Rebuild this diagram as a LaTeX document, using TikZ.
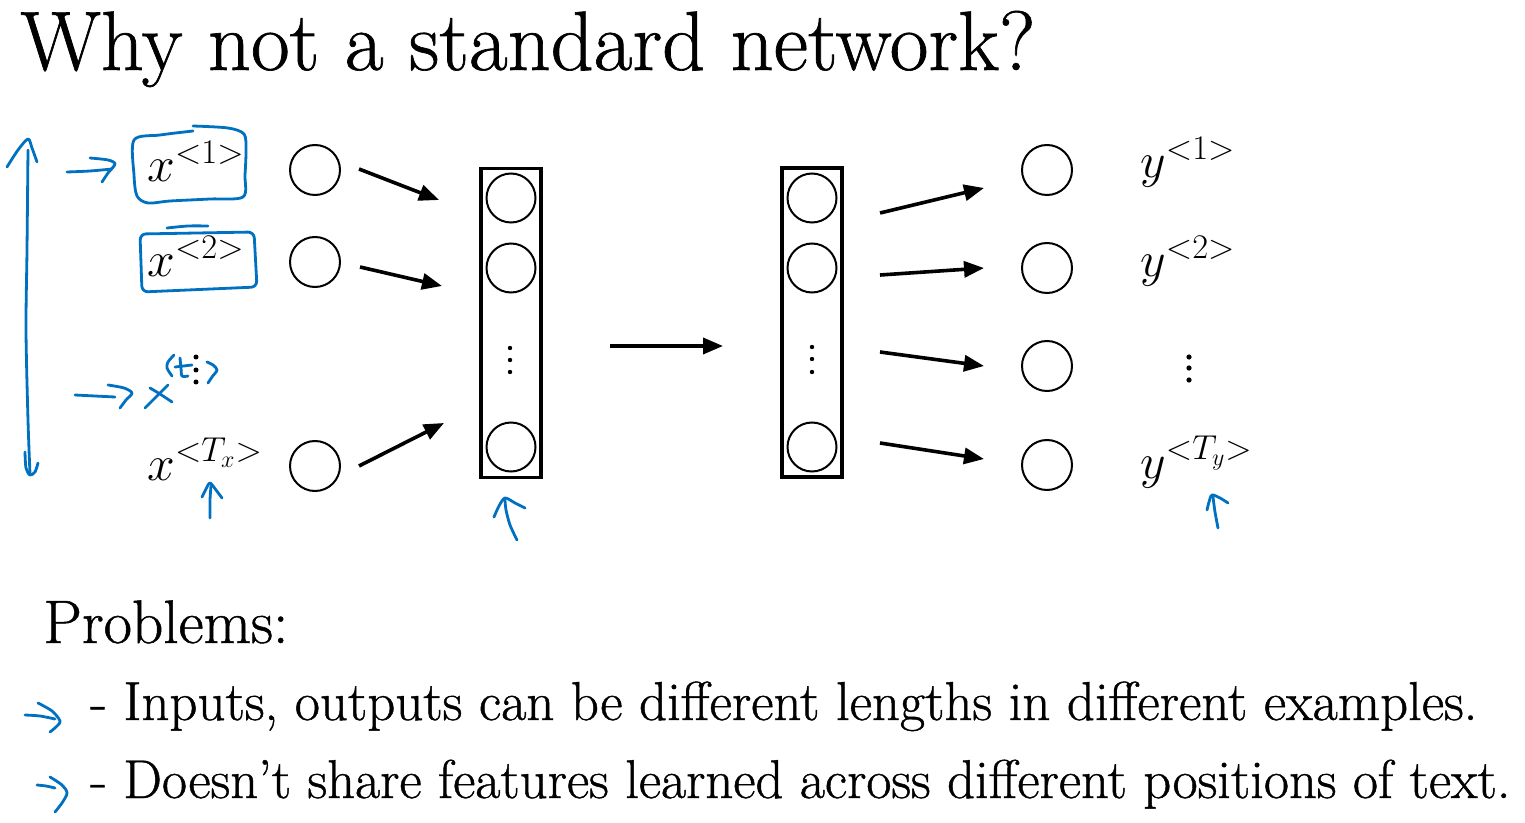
\documentclass[tikz,border=0pt]{standalone}
\usepackage{fontspec}
\newfontfamily\heavy{Latin Modern Roman}[FakeBold=0.8]
\usetikzlibrary{arrows.meta}
\definecolor{pen}{RGB}{0,112,192}
\begin{document}
\begin{tikzpicture}[x=0.5pt,y=-0.5pt,
  neuron/.style={circle, draw, line width=1pt, minimum size=25pt, inner sep=0pt},
  layerbox/.style={draw, line width=1.7pt, minimum width=30pt, minimum height=154.5pt, inner sep=0pt},
  arr/.style={line width=1.8pt, -{Triangle[length=10pt,width=8pt]}},
  ink/.style={pen, line width=1.4pt, line cap=round, line join=round},
  lbl/.style={anchor=base west, inner sep=0pt, font=\fontsize{23}{28}\selectfont},
  txt/.style={anchor=base west, inner sep=0pt},
  dot/.style={circle, fill, inner sep=0pt, minimum size=4pt}]
\useasboundingbox (0,0) rectangle (1525,823);

% texts
\node[txt] (title) at (20,70) {\resizebox{507.5pt}{!}{\heavy\fontsize{40}{48}\selectfont Why not a standard network?}};
\node[txt] (prob) at (43,643) {\resizebox{122.5pt}{!}{\heavy\fontsize{28}{34}\selectfont Problems:}};
\node[txt] (b1) at (90,720) {\resizebox{693.5pt}{!}{\heavy\fontsize{26}{32}\selectfont - Inputs, outputs can be different lengths in different examples.}};
\node[txt] (b2) at (90,798) {\resizebox{710pt}{!}{\heavy\fontsize{26}{32}\selectfont - Doesn’t share features learned across different positions of text.}};

% input labels
\node[lbl] (x1) at (147,182) {$x^{<1>}$};
\node[lbl] (x2) at (147,277) {$x^{<2>}$};
\node[lbl] (xT) at (147,480) {$x^{<T_x>}$};
\node[dot, minimum size=2.5pt] (xd1) at (196,357) {};
\node[dot, minimum size=2.5pt] (xd2) at (196,370) {};
\node[dot, minimum size=2.5pt] (xd3) at (196,382) {};

% output labels
\node[lbl] (y1) at (1140,178) {$y^{<1>}$};
\node[lbl] (y2) at (1140,277) {$y^{<2>}$};
\node[lbl] (yT) at (1140,478) {$y^{<T_y>}$};
\node[dot, minimum size=2.6pt] (yd1) at (1189,357) {};
\node[dot, minimum size=2.6pt] (yd2) at (1189,368) {};
\node[dot, minimum size=2.6pt] (yd3) at (1189,380) {};

% input neurons
\node[neuron] (c1) at (315,170) {};
\node[neuron] (c2) at (315,262) {};
\node[neuron] (c3) at (315,466) {};

% hidden layer 1
\node[layerbox] (L1) at (511,323) {};
\node[neuron, minimum size=24.5pt] (h1) at (511,198) {};
\node[neuron, minimum size=24.5pt] (h2) at (511,268) {};
\node[neuron, minimum size=24.5pt] (h3) at (511,447) {};
\node[dot, minimum size=2.2pt] (hd1) at (510,348) {};
\node[dot, minimum size=2.2pt] (hd2) at (510,360) {};
\node[dot, minimum size=2.2pt] (hd3) at (510,372) {};

% hidden layer 2
\node[layerbox] (L2) at (812,322.5) {};
\node[neuron, minimum size=24.5pt] (g1) at (812,198) {};
\node[neuron, minimum size=24.5pt] (g2) at (812,268) {};
\node[neuron, minimum size=24.5pt] (g3) at (812,447) {};
\node[dot, minimum size=2.2pt] (gd1) at (812,347) {};
\node[dot, minimum size=2.2pt] (gd2) at (812,359) {};
\node[dot, minimum size=2.2pt] (gd3) at (812,372) {};

% output neurons
\node[neuron] (o1) at (1047,170) {};
\node[neuron] (o2) at (1047,268) {};
\node[neuron] (o3) at (1047,366) {};
\node[neuron] (o4) at (1047,465) {};

% arrow end points
\coordinate (a1s) at (359,169); \coordinate (a1e) at (439,200);
\coordinate (a2s) at (360,267); \coordinate (a2e) at (442,286);
\coordinate (a3s) at (359,466); \coordinate (a3e) at (444,423);
\coordinate (ms) at (610,346);  \coordinate (me) at (723,346);
\coordinate (b1s) at (880,213); \coordinate (b1e) at (984,188);
\coordinate (b2s) at (880,275); \coordinate (b2e) at (984,268);
\coordinate (b3s) at (880,352); \coordinate (b3e) at (984,366);
\coordinate (b4s) at (880,443); \coordinate (b4e) at (984,459);

\draw[arr] (a1s) -- (a1e);
\draw[arr] (a2s) -- (a2e);
\draw[arr] (a3s) -- (a3e);
\draw[arr] (ms) -- (me);
\draw[arr] (b1s) -- (b1e);
\draw[arr] (b2s) -- (b2e);
\draw[arr] (b3s) -- (b3e);
\draw[arr] (b4s) -- (b4e);

% ---- hand-drawn blue annotations ----
% long vertical double arrow
\draw[ink] plot[smooth] coordinates {(28,150) (27,250) (26,330) (28,420) (30,474)};
\draw[ink] plot[smooth] coordinates {(7,167) (18,150) (28,139) (32,148) (37,162)};
\draw[ink] plot[smooth] coordinates {(25,452) (26,468) (30,475) (35,472) (38,463)};
% arrow to x<1>
\draw[ink] plot[smooth] coordinates {(67,172) (90,171) (112,169)};
\draw[ink] plot[smooth] coordinates {(90,158) (108,160) (115,164) (108,173) (102,182)};
% box around x<1>
\draw[ink] plot[smooth] coordinates {(193,126) (228,128) (244,134) (246,150) (245,175) (243,197) (210,199) (170,201) (148,203) (137,196) (134,175) (134,140) (160,135) (193,131)};
% box around x<2>
\draw[ink] plot[smooth] coordinates {(167,228) (188,226) (208,226)};
\draw[ink, rounded corners=3pt] (140,234) -- (254,232) -- (257,287) -- (142,292) -- cycle;
% arrow to x<t>
\draw[ink] plot[smooth] coordinates {(75,395) (95,396) (115,397)};
\draw[ink] plot[smooth] coordinates {(108,385) (124,388) (132,393) (126,400) (120,408)};
% hand-written x<t>
\draw[ink] (145,408) -- (168,385);
\draw[ink] plot[smooth] coordinates {(150,388) (160,394) (172,402)};
\draw[ink] plot[smooth] coordinates {(174,355) (168,362) (167,368) (172,376)};
\draw[ink] plot[smooth] coordinates {(180,358) (181,368) (182,376) (188,376)};
\draw[ink] (175,367) -- (192,365);
\draw[ink] plot[smooth] coordinates {(207,362) (213,365) (217,370) (212,377) (208,383)};
% up arrows
\draw[ink] plot[smooth] coordinates {(210,518) (210,500) (211,486)};
\draw[ink] plot[smooth] coordinates {(202,497) (206,489) (210,483) (216,490) (222,498)};
\draw[ink] plot[smooth] coordinates {(517,540) (510,525) (506,510) (505,500)};
\draw[ink] plot[smooth] coordinates {(494,517) (499,506) (505,498) (515,503) (525,508)};
\draw[ink] plot[smooth] coordinates {(1218,528) (1215,512) (1213,497)};
\draw[ink] plot[smooth] coordinates {(1207,510) (1209,502) (1212,495) (1220,498) (1228,503)};
% bullet arrows
\draw[ink] plot[smooth] coordinates {(25,715) (40,716) (55,719)};
\draw[ink] plot[smooth] coordinates {(38,703) (52,711) (60,721) (56,727) (50,732)};
\draw[ink] plot[smooth] coordinates {(37,785) (46,786) (55,788)};
\draw[ink] plot[smooth] coordinates {(50,777) (62,785) (67,793) (62,803) (55,812)};
\end{tikzpicture}
\end{document}
